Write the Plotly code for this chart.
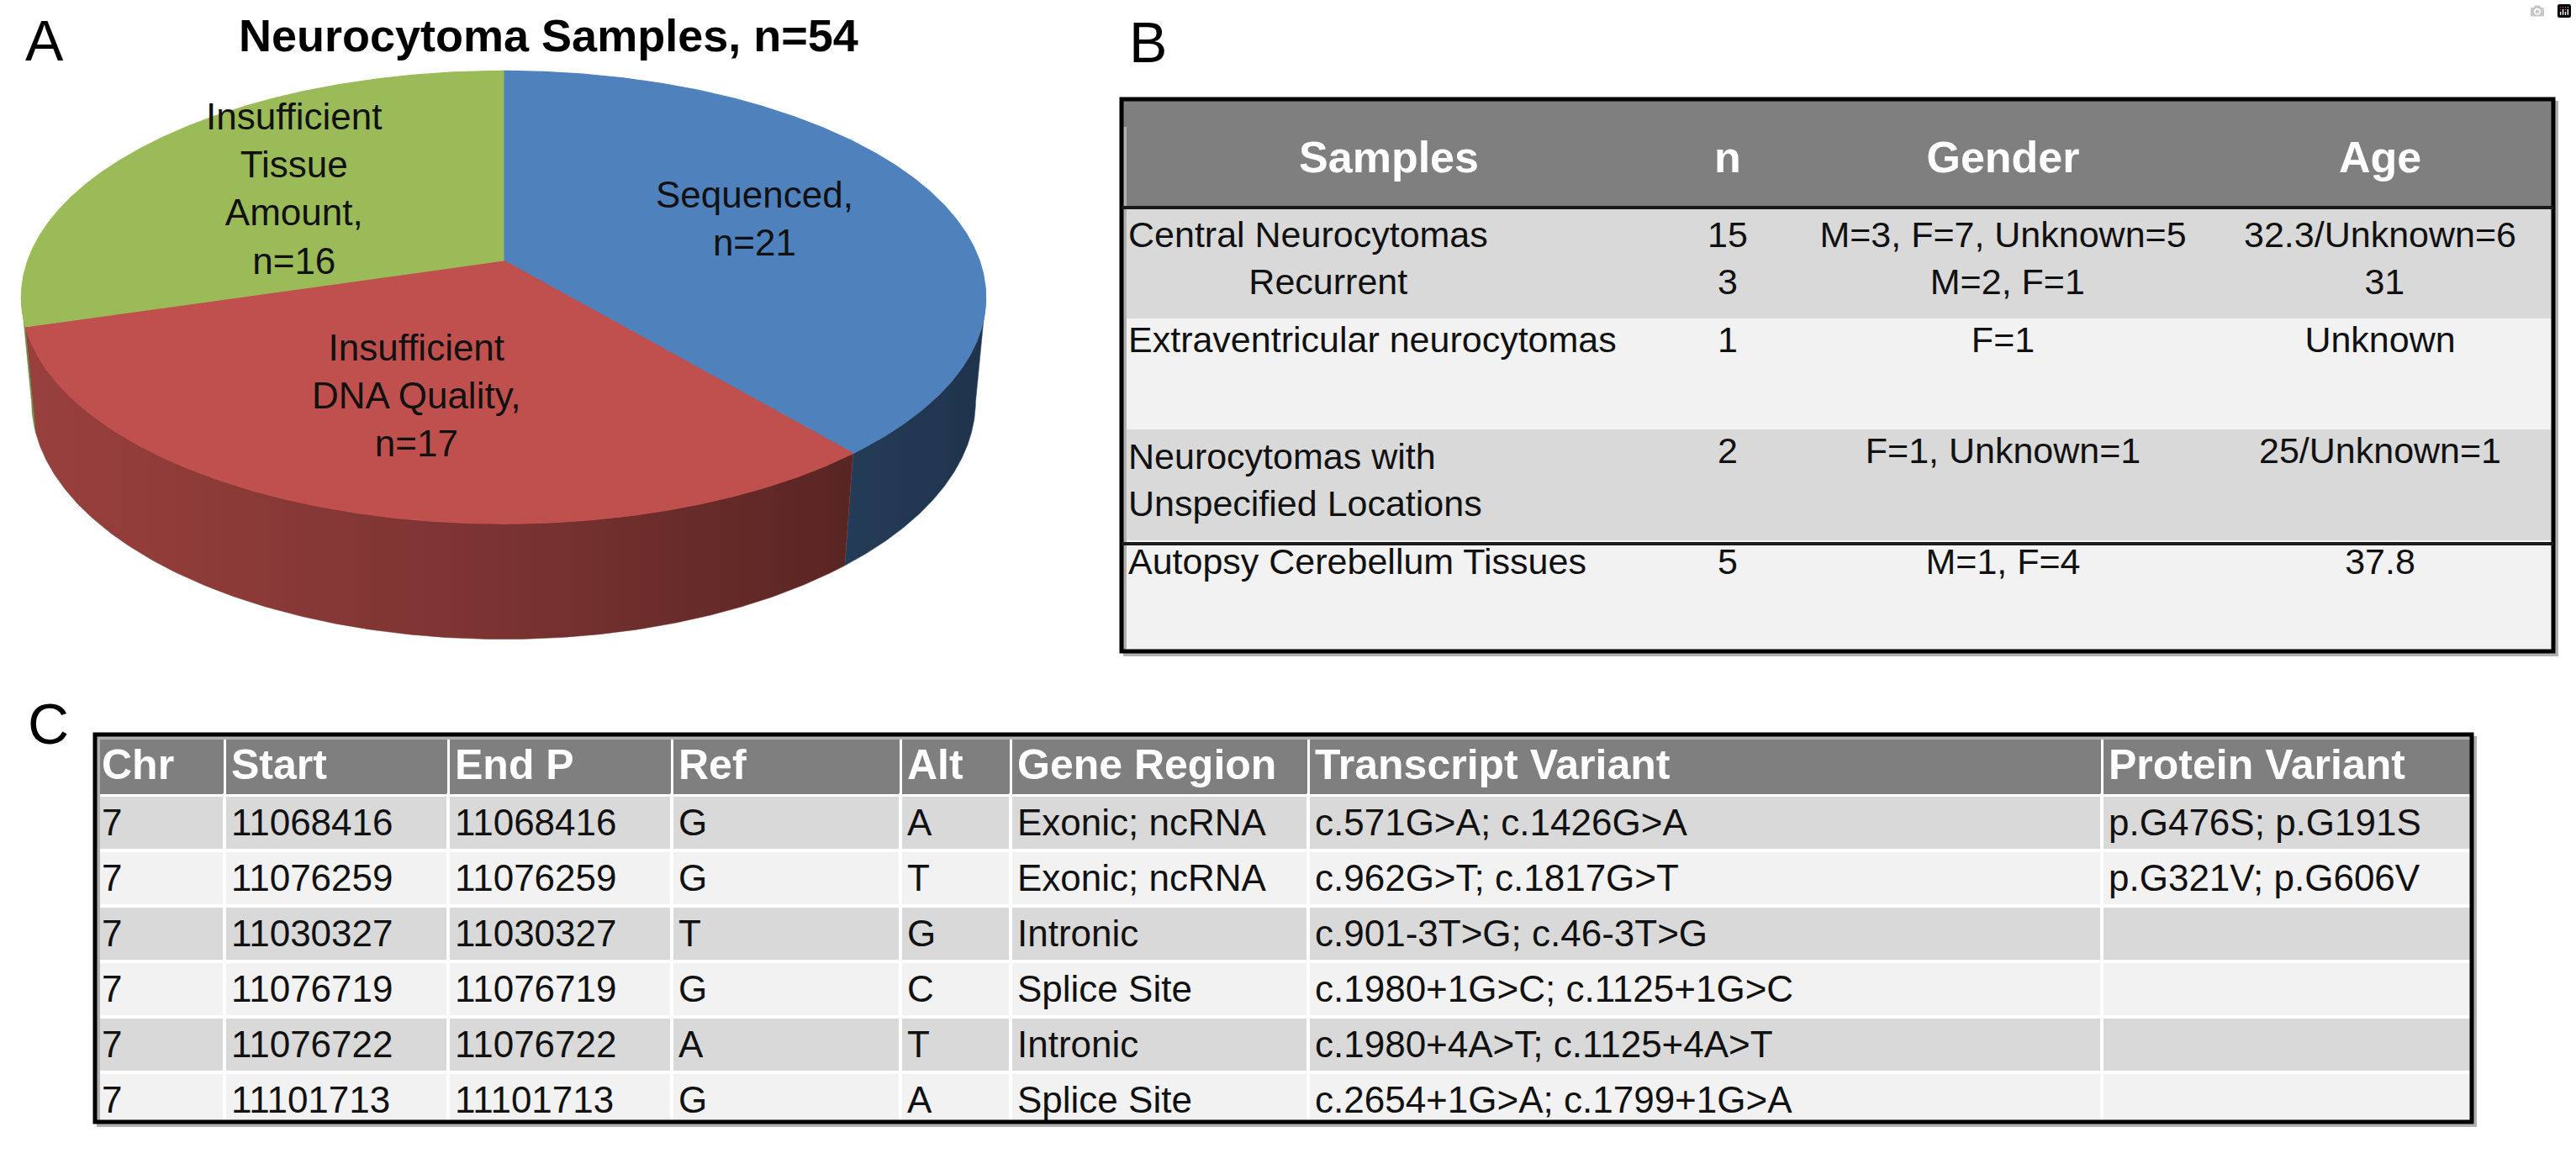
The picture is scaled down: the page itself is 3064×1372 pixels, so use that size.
import numpy as np
import plotly.graph_objects as go

# ---------------- data ----------------
pie_title = "Neurocytoma Samples, n=54"
pie_names = ["Sequenced,", "Insufficient<br>DNA Quality,", "Insufficient<br>Tissue<br>Amount,"]
pie_values = [21, 17, 16]
pie_colors = ["#4F81BD", "#C0504D", "#9BBB59"]

b_headers = ["Samples", "n", "Gender", "Age"]
b_samples = ["Central Neurocytomas", "Extraventricular neurocytomas",
             "Neurocytomas with<br>Unspecified Locations", "Autopsy Cerebellum Tissues"]
b_samples_sub = ["Recurrent", "", "", ""]
b_n = ["15", "1", "2", "5"]
b_n_sub = ["3", "", "", ""]
b_gender = ["M=3, F=7, Unknown=5", "F=1", "F=1, Unknown=1", "M=1, F=4"]
b_gender_sub = ["M=2, F=1", "", "", ""]
b_age = ["32.3/Unknown=6", "Unknown", "25/Unknown=1", "37.8"]
b_age_sub = ["31", "", "", ""]

c_headers = ["Chr", "Start", "End P", "Ref", "Alt", "Gene Region", "Transcript Variant", "Protein Variant"]
c_chr = ["7", "7", "7", "7", "7", "7"]
c_start = ["11068416", "11076259", "11030327", "11076719", "11076722", "11101713"]
c_end = ["11068416", "11076259", "11030327", "11076719", "11076722", "11101713"]
c_ref = ["G", "G", "T", "G", "A", "G"]
c_alt = ["A", "T", "G", "C", "T", "A"]
c_region = ["Exonic; ncRNA", "Exonic; ncRNA", "Intronic", "Splice Site", "Intronic", "Splice Site"]
c_transcript = ["c.571G>A; c.1426G>A", "c.962G>T; c.1817G>T", "c.901-3T>G; c.46-3T>G",
                "c.1980+1G>C; c.1125+1G>C", "c.1980+4A>T; c.1125+4A>T", "c.2654+1G>A; c.1799+1G>A"]
c_protein = ["p.G476S; p.G191S", "p.G321V; p.G606V", "", "", "", ""]

# ---------------- style / layout constants ----------------
W, H = 3064, 1372
FONT = "Liberation Sans, Arial, sans-serif"

EL = np.radians(27.6)
SE, CE = np.sin(EL), np.cos(EL)
DIST = 6.15 * CE
FOC = 566 * DIST
DEPTH = 0.2485
CX, AY = 599, 310


def proj(theta, z, r=1.0):
    X = r * np.sin(theta)
    Y = r * np.cos(theta)
    d = DIST + Y * CE - z * SE
    u = FOC * X / d
    v = FOC * (Y * SE + z * CE) / d
    return CX + u, AY - v


def shade(hexcol, f):
    hexcol = hexcol.lstrip("#")
    r, g, b = (int(hexcol[i:i + 2], 16) for i in (0, 2, 4))
    return "rgb(%d,%d,%d)" % (r * f, g * f, b * f)


fig = go.Figure()

total = float(sum(pie_values))
bounds = np.concatenate([[0], np.cumsum(pie_values)]) / total * 2 * np.pi
ts = np.arccos(-CE / DIST)
te = 2 * np.pi - ts
xs_all, _ = proj(np.linspace(0, 2 * np.pi, 721), 0)
xmin, xmax = xs_all.min(), xs_all.max()

# side walls
for i, col in enumerate(pie_colors):
    a, b = bounds[i], bounds[i + 1]
    lo, hi = max(a, ts), min(b, te)
    if hi <= lo:
        continue
    th = np.linspace(lo, hi, 200)
    x1, y1 = proj(th, 0)
    x2, y2 = proj(th[::-1], -DEPTH)
    fig.add_trace(go.Scatter(
        x=np.concatenate([x1, x2, x1[:1]]), y=np.concatenate([y1, y2, y1[:1]]),
        mode="lines", fill="toself", line=dict(width=0.5, color=shade(col, 0.6)),
        fillgradient=dict(type="horizontal", start=xmin, stop=xmax,
                          colorscale=[[0, shade(col, 0.80)], [0.5, shade(col, 0.64)], [1, shade(col, 0.40)]]),
        hoverinfo="skip", showlegend=False))

# top surfaces
for i, col in enumerate(pie_colors):
    a, b = bounds[i], bounds[i + 1]
    th = np.linspace(a, b, 300)
    x1, y1 = proj(th, 0)
    fig.add_trace(go.Scatter(
        x=np.concatenate([[CX], x1, [CX]]), y=np.concatenate([[AY], y1, [AY]]),
        mode="lines", fill="toself", fillcolor=col, line=dict(width=1.2, color=col),
        hoverinfo="skip", showlegend=False))

# slice labels
for i, name in enumerate(pie_names):
    mid = (bounds[i] + bounds[i + 1]) / 2
    lx, ly = proj(mid, 0, 0.58)
    fig.add_annotation(x=lx, y=ly, xref="x", yref="y", showarrow=False,
                       text="%s<br>n=%d" % (name, pie_values[i]),
                       font=dict(family=FONT, size=44, color="#111111"), align="center")

fig.add_annotation(x=652, y=42, xref="x", yref="y", showarrow=False,
                   text="<b>%s</b>" % pie_title, font=dict(family=FONT, size=54, color="black"))

# panel letters
for letter, lx, ly in [("A", 28, 48), ("B", 1341, 50), ("C", 31, 861)]:
    fig.add_annotation(x=lx, y=ly, xref="x", yref="y", showarrow=False, xanchor="left",
                       text=letter, font=dict(family=FONT, size=68, color="black"))

# ---------------- Table B ----------------
NB = "\u00a0"
# approximate Arial advance widths (em) to centre the second line of a cell
ARIAL_W = {c: 0.556 for c in "0123456789nou"}
ARIAL_W.update({"M": 0.833, "F": 0.611, "U": 0.722, "k": 0.5, "w": 0.722, "=": 0.584,
                ",": 0.278, " ": 0.278, ".": 0.278, "/": 0.278})


def text_w(s):
    return sum(ARIAL_W.get(ch, 0.556) for ch in s)


def centred(main, sub):
    out = []
    for m, s in zip(main, sub):
        if not s:
            out.append(m)
            continue
        pad = int(round((text_w(m) - text_w(s)) / 2 / 0.278))
        out.append(m + "<br>" + NB * max(pad, 0) + s)
    return out


b_col0 = [m + ("<br>" + NB * 12 + s if s else "") for m, s in zip(b_samples, b_samples_sub)]
b_cells = [b_col0, centred(b_n, b_n_sub), centred(b_gender, b_gender_sub), centred(b_age, b_age_sub)]
b_rowfill = ["#d9d9d9", "#f2f2f2", "#d9d9d9", "#f2f2f2"]
BX0, BX1, BY0, BY1 = 1334, 3037, 118, 775
BHTOP = 150
fig.add_trace(go.Table(
    domain=dict(x=[BX0 / W, BX1 / W], y=[1 - BY1 / H, 1 - BHTOP / H]),
    columnwidth=[636, 170, 485, 412],
    header=dict(values=["<b>%s</b>" % h for h in b_headers], height=247 - BHTOP, align="center",
                fill_color="#7f7f7f", line=dict(color="#7f7f7f", width=1),
                font=dict(family=FONT, size=52, color="white")),
    cells=dict(values=b_cells, height=132, align=["left", "center", "center", "center"],
               fill_color=[b_rowfill] * 4, line=dict(color=[b_rowfill] * 4, width=1),
               font=dict(family=FONT, size=43, color="#111111"))))


# ---------------- Table C ----------------
def markup(col):
    # route every cell through the same text renderer so baselines line up
    return ["<span>%s</span>" % s.replace(">", "&gt;") if s else "" for s in col]


c_rowfill = ["#d9d9d9", "#f2f2f2"] * 3
CX0, CX1, CY0, CY1 = 113, 2940, 874, 1335
c_cols = [c_chr, c_start, c_end, c_ref, c_alt, c_region, c_transcript, c_protein]
fig.add_trace(go.Table(
    domain=dict(x=[CX0 / W, CX1 / W], y=[1 - CY1 / H, 1 - CY0 / H]),
    columnwidth=[154, 266, 266, 272, 131, 354, 944, 440],
    header=dict(values=["<b>%s</b>" % h for h in c_headers], height=65, align="left",
                fill_color="#7f7f7f", line=dict(color="white", width=3),
                font=dict(family=FONT, size=50, color="white")),
    cells=dict(values=[markup(c) for c in c_cols],
               height=66, align="left", fill_color=[c_rowfill] * 8,
               line=dict(color="white", width=4),
               font=dict(family=FONT, size=44, color="#111111"))))

# table borders, header extension, shadows
shapes = [
    dict(type="rect", x0=BX0 + 4, x1=BX1 + 4, y0=BY0 + 4, y1=BY1 + 4, line=dict(color="#b0b0b0", width=4)),
    dict(type="rect", x0=CX0 + 4, x1=CX1 + 4, y0=CY0 + 4, y1=CY1 + 4, line=dict(color="#b0b0b0", width=4)),
    dict(type="rect", x0=BX0, x1=BX1, y0=BY0, y1=BHTOP + 1, fillcolor="#7f7f7f", line=dict(width=0)),
    dict(type="rect", x0=BX0, x1=BX1, y0=BY0, y1=BY1, line=dict(color="black", width=5)),
    dict(type="line", x0=BX0, x1=BX1, y0=247, y1=247, line=dict(color="#1a1a1a", width=4)),
    dict(type="line", x0=BX0, x1=BX1, y0=647, y1=647, line=dict(color="#1a1a1a", width=4)),
    dict(type="rect", x0=CX0, x1=CX1, y0=CY0, y1=CY1, line=dict(color="black", width=5)),
]
for s in shapes:
    s.update(xref="x", yref="y", layer="above")
fig.update_layout(shapes=shapes)

fig.update_layout(
    width=W, height=H, margin=dict(l=0, r=0, t=0, b=0),
    paper_bgcolor="white", plot_bgcolor="white", showlegend=False,
    xaxis=dict(range=[0, W], visible=False, domain=[0, 1], fixedrange=True),
    yaxis=dict(range=[H, 0], visible=False, domain=[0, 1], fixedrange=True),
)

fig.write_html("out.html", post_script="document.body.style.margin='0';document.body.style.overflow='hidden';")
